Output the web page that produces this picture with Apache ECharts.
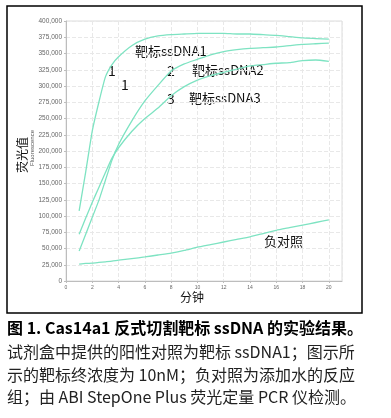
<!DOCTYPE html>
<html><head><meta charset="utf-8">
<script src="https://cdn.jsdelivr.net/npm/echarts@6/dist/echarts.min.js"></script>
<style>html,body{margin:0;padding:0;background:#fff}#c{width:391px;height:418px}</style>
</head><body><div id="c"></div>
<script>
const minutes = [1,1.5,2,2.5,3,3.5,4,5,6,7,8,9,10,11,12,13,14,15,16,17,18,19,20];
const ssDNA1 = [108000,168000,231000,275000,314000,333000,345000,362000,372000,377000,379000,380000,381000,381000,381000,380000,380000,379000,378000,376000,374000,373000,372000];
const ssDNA2 = [46000,72000,98000,124000,155000,186000,210000,246000,277000,301000,323000,334000,341000,348000,353000,356000,358000,359000,360000,362000,364000,365000,366000];
const ssDNA3 = [72000,97000,121000,144000,167000,189000,205000,230000,250000,266000,285000,299000,309000,316000,321000,326000,331000,333000,335000,336000,339000,340000,338000];
const negCtrl = [26000,27000,27500,28500,29500,30500,32000,34500,37000,40000,43000,47000,52000,56000,60000,64000,68000,73000,78000,82000,86000,90000,94000];
const seriesNames = ['靶标ssDNA1','靶标ssDNA2','靶标ssDNA3','负对照'];
const xTitle = '分钟';
const yTitle = '荧光值';
const yTitleEn = 'Fluorescence';
const captionTitle = '图 1. Cas14a1 反式切割靶标 ssDNA 的实验结果。';
const captionLines = ['试剂盒中提供的阳性对照为靶标 ssDNA1；图示所','示的靶标终浓度为 10nM；负对照为添加水的反应','组；由 ABI StepOne Plus 荧光定量 PCR 仪检测。'];

const lineColor = '#7ee3c2';
const pairs = arr => minutes.map((m,i)=>[m,arr[i]]);
const allSeries = [ssDNA1, ssDNA2, ssDNA3, negCtrl];
const cjk = '"Noto Sans CJK SC","Noto Sans",sans-serif';

const chart = echarts.init(document.getElementById('c'), null, {renderer:'canvas'});
const ann = (text, x, y, size) => ({type:'text', left:x, top:y, style:{text, fontSize:size||13, fontFamily:cjk, fill:'#111'}});
chart.setOption({
  backgroundColor:'#fff',
  animation:false,
  grid:{left:66, top:21, width:276, height:260, show:true, borderColor:'#dcdcdc', borderWidth:1},
  xAxis:{type:'value', min:0, max:21, interval:2,
    axisLine:{lineStyle:{color:'#bdbdbd'}}, axisTick:{length:2, lineStyle:{color:'#bdbdbd'}},
    axisLabel:{fontSize:5, color:'#666', margin:4, showMaxLabel:false, fontFamily:'Arial'},
    splitLine:{lineStyle:{color:'#e8e8e8', type:'dashed'}}},
  yAxis:{type:'value', min:0, max:400000, interval:25000,
    axisLine:{show:true, lineStyle:{color:'#bdbdbd'}}, axisTick:{show:true, length:2, lineStyle:{color:'#bdbdbd'}},
    axisLabel:{fontSize:6.5, color:'#666', margin:4, fontFamily:'Arial', formatter:v=>v.toLocaleString('en-US')},
    splitLine:{lineStyle:{color:'#e8e8e8', type:'dashed'}}},
  series: allSeries.map((arr,i)=>({name:seriesNames[i], type:'line', data:pairs(arr), showSymbol:false,
    smooth:0.15, lineStyle:{color:lineColor, width:1.3}})),
  graphic:[
    {type:'rect', shape:{x:7, y:6, width:355, height:307}, style:{fill:'none', stroke:'#000', lineWidth:1.5}},
    ann('1',108,64,14), ann('1',121,78,14),
    ann(seriesNames[0],135,45,13),
    ann('2',167,64,14), ann(seriesNames[1],192,64,13),
    ann('3',167,92,14), ann(seriesNames[2],189,92,13),
    ann(seriesNames[3],264,235,13),
    {type:'text', x:22, y:155, rotation:Math.PI/2, style:{text:yTitle, fontSize:12, fontFamily:cjk, fill:'#111', align:'center', verticalAlign:'middle'}},
    {type:'text', x:32, y:148, rotation:Math.PI/2, style:{text:yTitleEn, fontSize:6, fontFamily:'Arial', fill:'#555', align:'center', verticalAlign:'middle'}},
    {type:'text', x:192, y:297, style:{text:xTitle, fontSize:12, fontFamily:cjk, fill:'#111', align:'center', verticalAlign:'middle'}},
    {type:'text', x:7, y:328, style:{text:captionTitle, fontSize:16, fontWeight:'bold', fontFamily:cjk, fill:'#000', verticalAlign:'middle'}},
    {type:'text', x:7, y:352, style:{text:captionLines[0], fontSize:16, fontFamily:cjk, fill:'#222', verticalAlign:'middle'}},
    {type:'text', x:7, y:375, style:{text:captionLines[1], fontSize:16, fontFamily:cjk, fill:'#222', verticalAlign:'middle'}},
    {type:'text', x:7, y:397, style:{text:captionLines[2], fontSize:16, fontFamily:cjk, fill:'#222', verticalAlign:'middle'}}
  ]
});
</script></body></html>
